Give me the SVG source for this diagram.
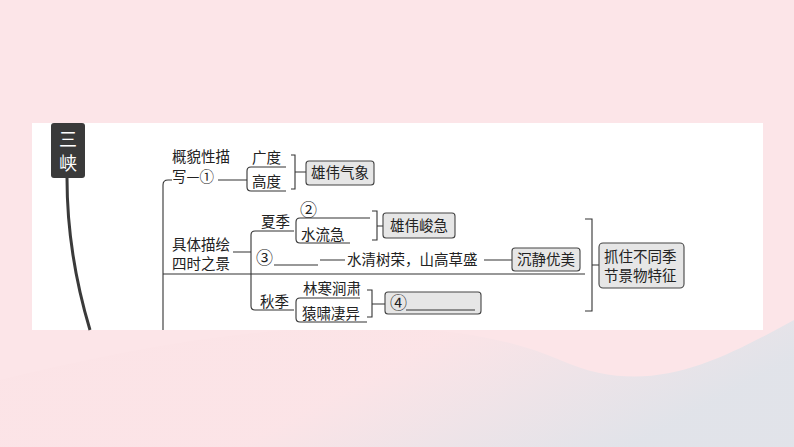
<svg xmlns="http://www.w3.org/2000/svg" width="794" height="447" viewBox="0 0 794 447">
<defs>
<linearGradient id="bw" x1="0" y1="0" x2="1" y2="0.3"><stop offset="0.55" stop-color="#fbe3e6"/><stop offset="1" stop-color="#cfe2ea"/></linearGradient>
<style>
text{font-family:"Noto Sans CJK SC",sans-serif;font-size:14.5px;fill:#222}
.l{fill:none;stroke:#333;stroke-width:1.1}
.b{fill:#e6e6e6;stroke:#444;stroke-width:1.1}
</style>
</defs>
<rect width="794" height="447" fill="#fce5e8"/>
<path d="M0 380 C200 330 420 300 560 360 C650 400 720 360 794 320 L794 447 L0 447Z" fill="url(#bw)" opacity="0.6"/>
<rect x="32" y="123" width="731" height="207" fill="#fff"/>
<g id="title"><rect x="51" y="123" width="34" height="55" rx="3" fill="#3a3a3a"/><text x="68" y="146" text-anchor="middle" style="fill:#fff;font-size:18px">三</text><text x="68" y="170" text-anchor="middle" style="fill:#fff;font-size:18px">峡</text></g>
<g id="connectors">
<path d="M67 178 C67 240 78 290 90 330" fill="none" stroke="#3a3a3a" stroke-width="3"/>
<path class="l" d="M163 330 V185 Q163 180 168 180 H172 M218 180 H243 M286 167 H251 Q247 167 247 171 V187 Q247 191 251 191 H286 M243 180 H247"/>
<path class="l" d="M291 155 H295 V189 H291 M295 172 H306"/>
<path class="l" d="M163 274 H585 M233 252 H251 M294 231 H255 Q251 231 251 235 V306 Q251 310 255 310 H294"/>
<path class="l" d="M370 218 H300 Q296 218 296 222 V239 Q296 243 300 243 H350 M372 211 H377 V240 H372 M377 226 H383"/>
<path class="l" d="M274 265 H318 M320 260 H345 M484 260 H512"/>
<path class="l" d="M360 298 H300 Q296 298 296 302 V318 Q296 322 300 322 H367 M367 290 H372 V317 H367 M372 304 H385"/>
<path class="l" d="M585 219 H592 V311 H585 M592 265 H599"/>
</g>
<g id="n1"><text x="172" y="162">概貌性描</text><text x="172" y="182">写—①</text></g>
<g id="n2"><text x="252" y="163">广度</text><text x="252" y="187">高度</text></g>
<g id="n3"><rect class="b" x="306" y="161" width="68" height="24" rx="3"/><text x="311" y="178">雄伟气象</text></g>
<g id="n4"><text x="172" y="250">具体描绘</text><text x="172" y="269">四时之景</text></g>
<g id="n5"><text x="261" y="227">夏季</text><text x="260" y="307">秋季</text></g>
<g id="n6"><text x="300" y="216" style="font-size:17px">②</text><text x="301" y="240">水流急</text></g>
<g id="n7"><rect class="b" x="383" y="213" width="72" height="25" rx="3"/><text x="390" y="231">雄伟峻急</text></g>
<g id="n8"><text x="256" y="264" style="font-size:17px">③</text><text x="347" y="265">水清树荣，山高草盛</text></g>
<g id="n9"><rect class="b" x="512" y="248" width="68" height="23" rx="3"/><text x="517" y="265">沉静优美</text></g>
<g id="n10"><text x="303" y="294">林寒涧肃</text><text x="302" y="319">猿啸凄异</text></g>
<g id="n11"><rect class="b" x="385" y="292" width="96" height="22" rx="3"/><text x="390" y="309" style="font-size:17px">④</text><path class="l" d="M406 310 H475"/></g>
<g id="n12"><rect class="b" x="599" y="243" width="85" height="45" rx="4"/><text x="604" y="262">抓住不同季</text><text x="604" y="281">节景物特征</text></g>
</svg>
